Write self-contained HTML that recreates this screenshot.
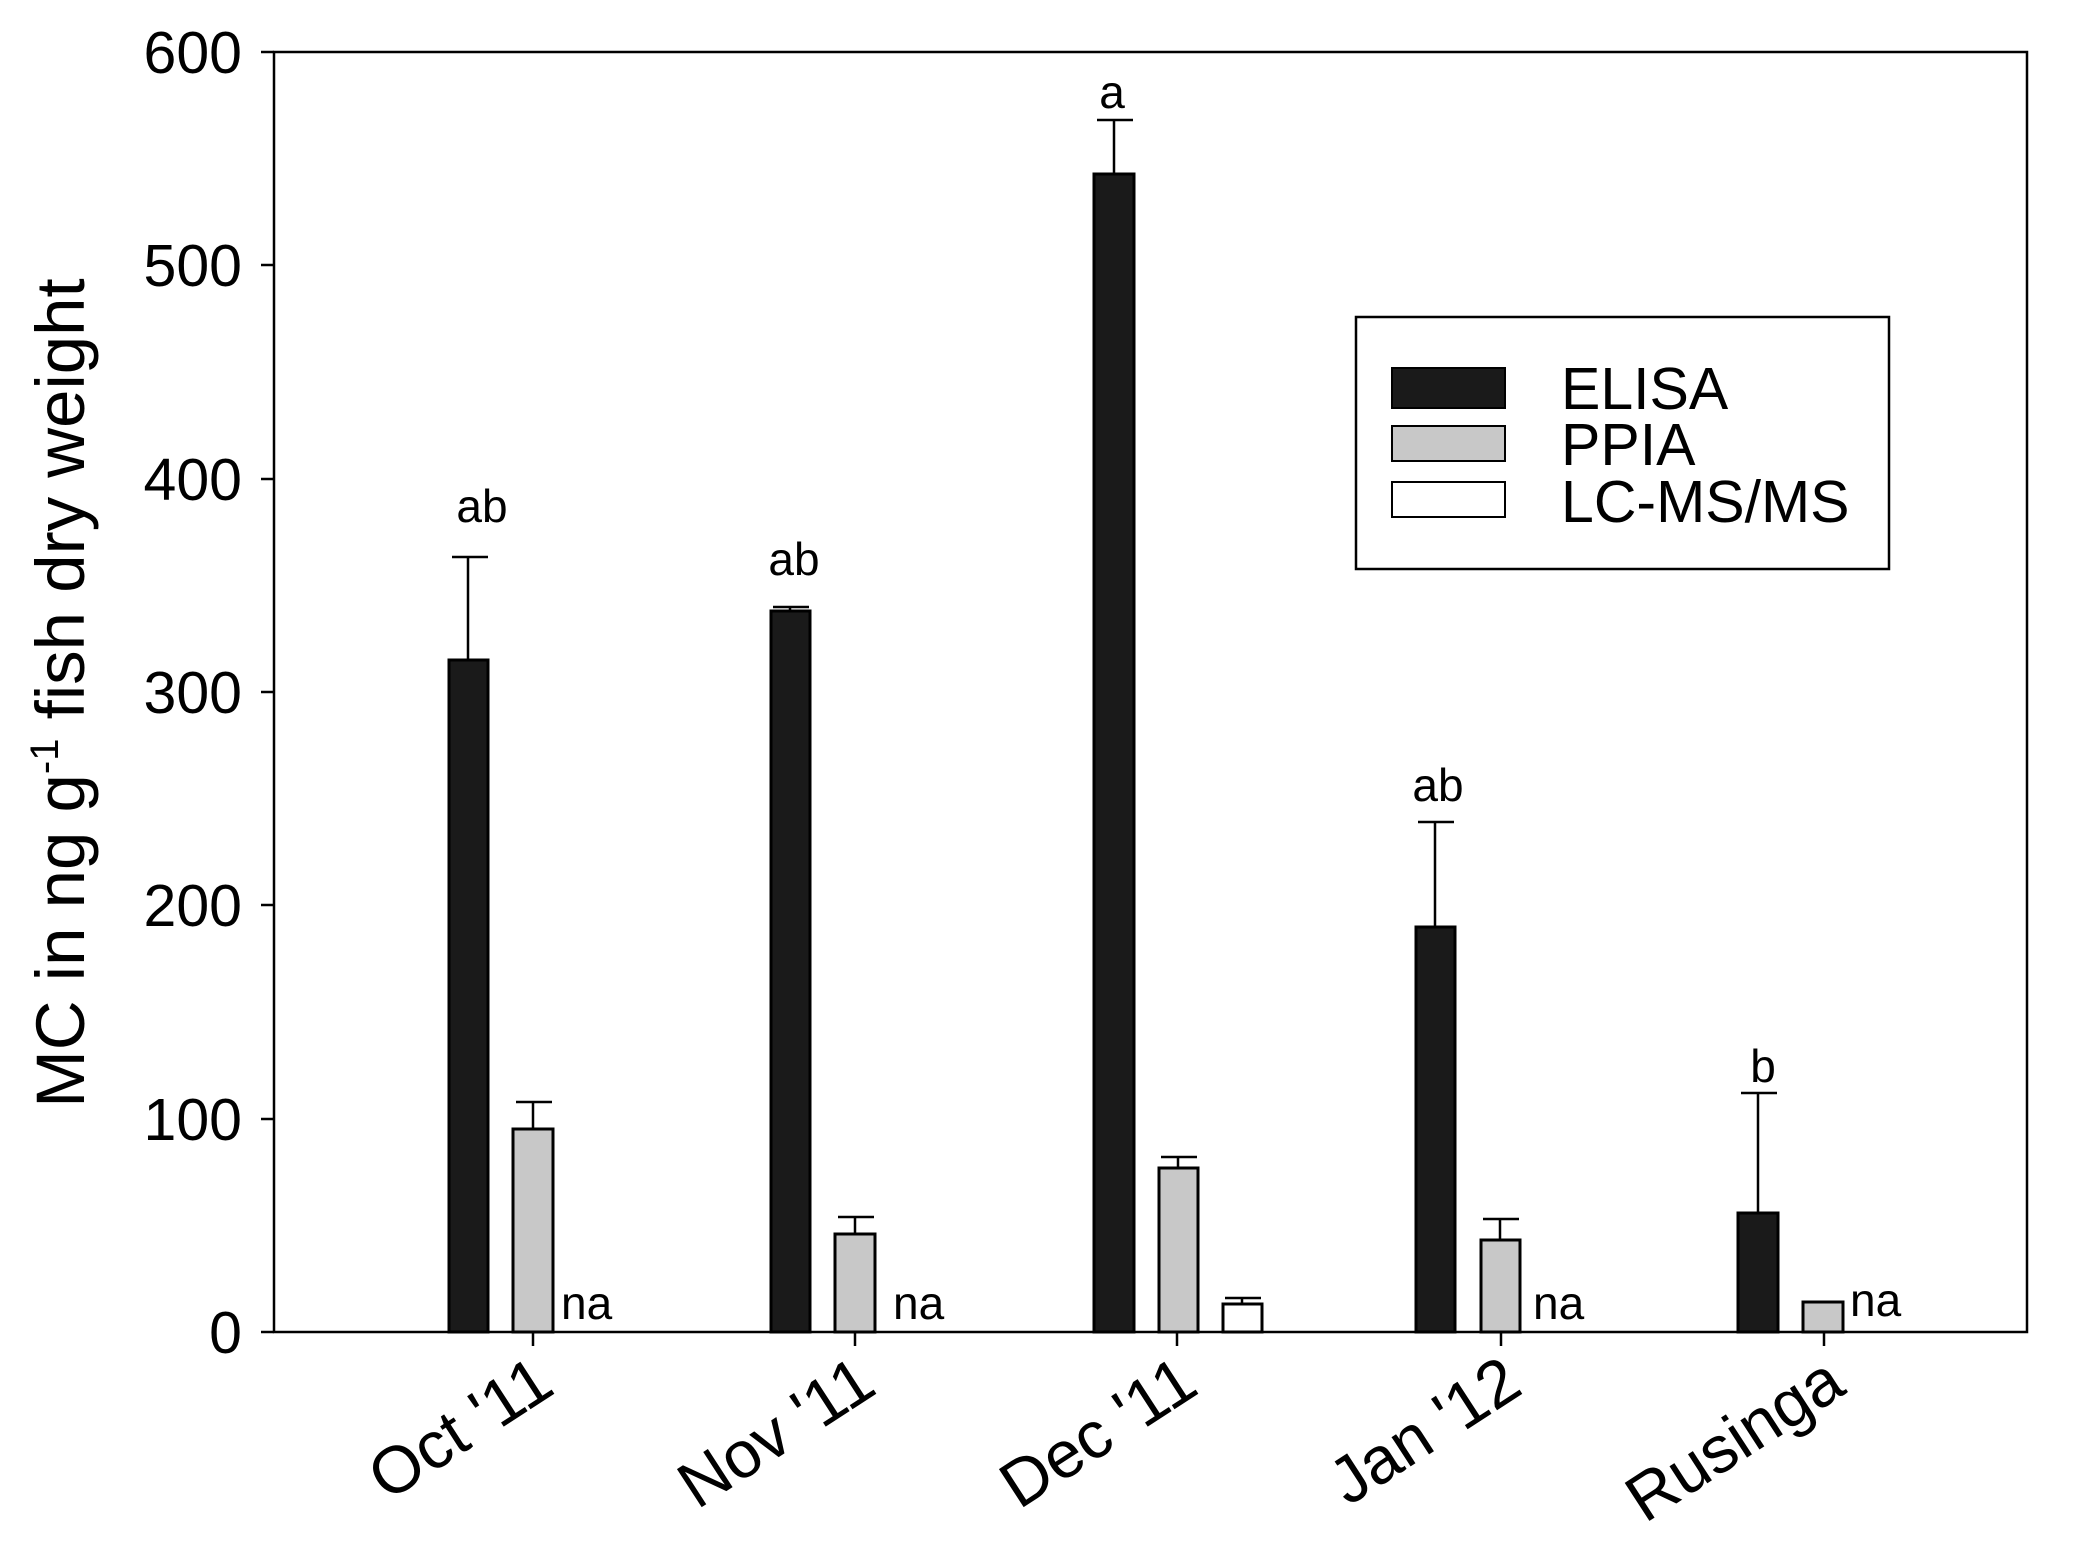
<!DOCTYPE html>
<html><head><style>body{margin:0;background:#fff}</style></head><body>
<svg width="2082" height="1563" xmlns="http://www.w3.org/2000/svg" font-family="Liberation Sans, Arial, sans-serif">
<rect width="2082" height="1563" fill="#fff"/>
<rect x="274" y="52" width="1753" height="1280" fill="none" stroke="#000" stroke-width="2.5"/>
<g stroke="#000" stroke-width="2.5">
<line x1="261" y1="52" x2="274" y2="52"/><line x1="261" y1="265" x2="274" y2="265"/>
<line x1="261" y1="479" x2="274" y2="479"/><line x1="261" y1="692" x2="274" y2="692"/>
<line x1="261" y1="905" x2="274" y2="905"/><line x1="261" y1="1119" x2="274" y2="1119"/>
<line x1="261" y1="1332" x2="274" y2="1332"/>
<line x1="533" y1="1332" x2="533" y2="1346"/><line x1="855" y1="1332" x2="855" y2="1346"/>
<line x1="1177" y1="1332" x2="1177" y2="1346"/><line x1="1501" y1="1332" x2="1501" y2="1346"/>
<line x1="1824" y1="1332" x2="1824" y2="1346"/>
</g>
<g font-size="59" text-anchor="end" fill="#000">
<text x="242" y="73">600</text><text x="242" y="286">500</text><text x="242" y="500">400</text>
<text x="242" y="713">300</text><text x="242" y="926">200</text><text x="242" y="1140">100</text>
<text x="242" y="1353">0</text>
</g>
<text transform="translate(84,693) rotate(-90)" font-size="69" text-anchor="middle">MC in ng g<tspan dy="-26" font-size="40">-1</tspan><tspan dy="26"> fish dry weight</tspan></text>
<g font-size="66" text-anchor="end">
<text transform="translate(557,1392) rotate(-33)">Oct '11</text>
<text transform="translate(879,1392) rotate(-33)">Nov '11</text>
<text transform="translate(1201,1392) rotate(-33)">Dec '11</text>
<text transform="translate(1525,1392) rotate(-33)">Jan '12</text>
<text transform="translate(1848,1392) rotate(-33)">Rusinga</text>
</g>
<g stroke="#000" stroke-width="2.5">
<line x1="468" y1="660" x2="468" y2="557"/><line x1="452" y1="557" x2="488" y2="557"/>
<line x1="533" y1="1129" x2="533" y2="1102"/><line x1="516" y1="1102" x2="552" y2="1102"/>
<line x1="790" y1="611" x2="790" y2="607"/><line x1="773" y1="607" x2="809" y2="607"/>
<line x1="855" y1="1234" x2="855" y2="1217"/><line x1="838" y1="1217" x2="874" y2="1217"/>
<line x1="1114" y1="174" x2="1114" y2="120"/><line x1="1097" y1="120" x2="1133" y2="120"/>
<line x1="1178" y1="1168" x2="1178" y2="1157"/><line x1="1161" y1="1157" x2="1197" y2="1157"/>
<line x1="1242" y1="1304" x2="1242" y2="1298"/><line x1="1225" y1="1298" x2="1261" y2="1298"/>
<line x1="1435" y1="927" x2="1435" y2="822"/><line x1="1418" y1="822" x2="1454" y2="822"/>
<line x1="1500" y1="1240" x2="1500" y2="1219"/><line x1="1483" y1="1219" x2="1519" y2="1219"/>
<line x1="1758" y1="1213" x2="1758" y2="1093"/><line x1="1741" y1="1093" x2="1777" y2="1093"/>
</g>
<g stroke="#000" stroke-width="3">
<rect x="449" y="660" width="39" height="672" fill="#1a1a1a"/>
<rect x="513" y="1129" width="40" height="203" fill="#c8c8c8"/>
<rect x="771" y="611" width="39" height="721" fill="#1a1a1a"/>
<rect x="835" y="1234" width="40" height="98" fill="#c8c8c8"/>
<rect x="1094" y="174" width="40" height="1158" fill="#1a1a1a"/>
<rect x="1159" y="1168" width="39" height="164" fill="#c8c8c8"/>
<rect x="1223" y="1304" width="39" height="28" fill="#fff"/>
<rect x="1416" y="927" width="39" height="405" fill="#1a1a1a"/>
<rect x="1481" y="1240" width="39" height="92" fill="#c8c8c8"/>
<rect x="1738" y="1213" width="40" height="119" fill="#1a1a1a"/>
<rect x="1803" y="1302" width="40" height="30" fill="#c8c8c8"/>
</g>
<g font-size="46" text-anchor="middle">
<text x="482" y="522">ab</text><text x="794" y="575">ab</text><text x="1112" y="108">a</text>
<text x="1438" y="801">ab</text><text x="1763" y="1082">b</text>
</g>
<g font-size="46">
<text x="561" y="1319">na</text><text x="893" y="1319">na</text><text x="1533" y="1319">na</text><text x="1850" y="1316">na</text>
</g>
<rect x="1356" y="317" width="533" height="252" fill="#fff" stroke="#000" stroke-width="2.5"/>
<rect x="1392" y="368" width="113" height="40" fill="#1a1a1a" stroke="#000" stroke-width="2"/>
<rect x="1392" y="426" width="113" height="35" fill="#c8c8c8" stroke="#000" stroke-width="2"/>
<rect x="1392" y="482" width="113" height="35" fill="#fff" stroke="#000" stroke-width="2"/>
<g font-size="59">
<text x="1561" y="409">ELISA</text><text x="1561" y="465">PPIA</text><text x="1561" y="522">LC-MS/MS</text>
</g>
</svg>
</body></html>
